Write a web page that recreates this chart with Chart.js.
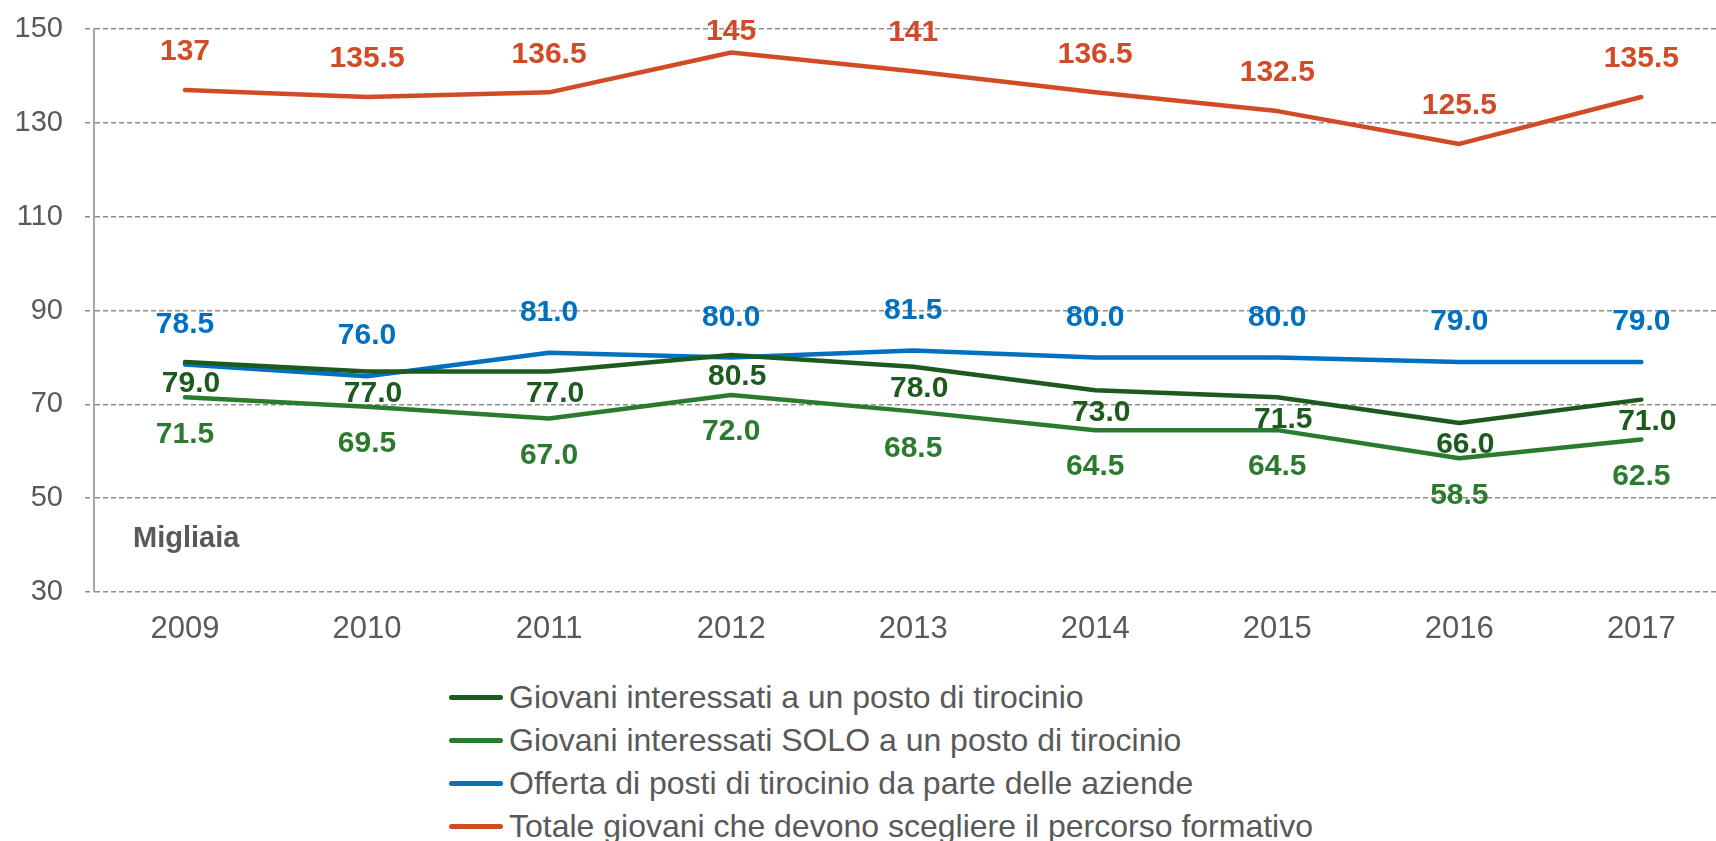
<!DOCTYPE html>
<html>
<head>
<meta charset="utf-8">
<script src="https://cdn.jsdelivr.net/npm/chart.js@4.4.1/dist/chart.umd.min.js"></script>
<style>
  body { margin: 0; background: #fff; overflow: hidden; }
  #wrap { position: relative; width: 1716px; height: 841px; }
  #chartBox { position: absolute; left: 0; top: 0; width: 1716px; height: 670px; }
  #legend { position: absolute; left: 449px; top: 676px; font-family: 'Liberation Sans', Arial, sans-serif; font-size: 32px; color: #595959; }
  #legend .item { height: 43px; line-height: 43px; white-space: nowrap; display: flex; align-items: center; }
  #legend .swatch { display: inline-block; width: 54px; height: 5px; border-radius: 3px; margin-right: 6px; }
</style>
</head>
<body>
<div id="wrap">
  <div id="chartBox"><canvas id="lineChart"></canvas></div>
  <div id="legend"></div>
</div>
<script>
const years = [2009, 2010, 2011, 2012, 2013, 2014, 2015, 2016, 2017];
const interessati = [79.0, 77.0, 77.0, 80.5, 78.0, 73.0, 71.5, 66.0, 71.0];
const soloTirocinio = [71.5, 69.5, 67.0, 72.0, 68.5, 64.5, 64.5, 58.5, 62.5];
const offertaPosti = [78.5, 76.0, 81.0, 80.0, 81.5, 80.0, 80.0, 79.0, 79.0];
const totaleGiovani = [137, 135.5, 136.5, 145, 141, 136.5, 132.5, 125.5, 135.5];
const yMin = 30, yMax = 150, yStep = 20;

const FONT = "'Liberation Sans', Arial, sans-serif";
const GRAY = '#595959';

// etichette dei valori sopra/sotto le linee
const valueLabels = {
  id: 'valueLabels',
  afterDatasetsDraw(chart) {
    const ctx = chart.ctx;
    const top = chart.chartArea.top;
    ctx.save();
    ctx.font = 'bold 30px ' + FONT;
    ctx.textAlign = 'center';
    ctx.textBaseline = 'middle';
    chart.data.datasets.forEach((ds, i) => {
      const meta = chart.getDatasetMeta(i);
      ctx.fillStyle = ds.borderColor;
      meta.data.forEach((pt, j) => {
        const v = ds.data[j].y;
        const txt = ds.decimals ? v.toFixed(1) : String(v);
        let y = pt.y + ds.labelDy;
        if (y < top + 3) y = top + 3;
        ctx.fillText(txt, pt.x + ds.labelDx, y);
      });
    });
    // unità di misura
    ctx.font = 'bold 29px ' + FONT;
    ctx.fillStyle = GRAY;
    ctx.textAlign = 'left';
    ctx.fillText('Migliaia', chart.chartArea.left + 39, 539);
    ctx.restore();
  }
};

function serie(label, values, color, dx, dy, decimals) {
  return {
    label: label,
    data: values.map((v, i) => ({ x: years[i], y: v })),
    borderColor: color,
    backgroundColor: color,
    borderWidth: 4.5,
    borderCapStyle: 'round',
    borderJoinStyle: 'round',
    pointRadius: 0,
    tension: 0,
    labelDx: dx,
    labelDy: dy,
    decimals: decimals
  };
}

const datasets = [
  serie('Giovani interessati a un posto di tirocinio', interessati, '#1D5A1D', 6, 22, true),
  serie('Giovani interessati SOLO a un posto di tirocinio', soloTirocinio, '#2A7B2E', 0, 37, true),
  serie('Offerta di posti di tirocinio da parte delle aziende', offertaPosti, '#0070C0', 0, -40, true),
  serie('Totale giovani che devono scegliere il percorso formativo', totaleGiovani, '#D24B27', 0, -38, false)
];

const chart = new Chart(document.getElementById('lineChart'), {
  type: 'line',
  data: { datasets: datasets },
  options: {
    responsive: true,
    maintainAspectRatio: false,
    animation: false,
    layout: { padding: { top: 29, right: 0, bottom: 0, left: 0 } },
    plugins: {
      legend: { display: false },
      tooltip: { enabled: false }
    },
    scales: {
      x: {
        type: 'linear',
        min: 2008.5,
        max: 2017.41,
        afterBuildTicks: (scale) => { scale.ticks = years.map(y => ({ value: y })); },
        afterFit: (scale) => { scale.height = 78; },
        grid: { display: false, drawTicks: false },
        border: { display: false },
        ticks: {
          padding: 19,
          color: GRAY,
          font: { family: FONT, size: 31 },
          callback: (v) => String(v)
        }
      },
      y: {
        min: yMin,
        max: yMax,
        afterFit: (scale) => {
          scale.width = 94;
          scale.paddingTop = 0;
          scale.paddingBottom = 0;
        },
        grid: {
          color: '#8C8C8C',
          lineWidth: 1.5,
          tickLength: 9,
          tickBorderDash: [5, 3],
          tickColor: '#8C8C8C'
        },
        // in v4 il dash del bordo vale per le linee della griglia, l'asse resta pieno
        border: { display: true, color: '#A6A6A6', width: 2, dash: [5, 3] },
        ticks: {
          stepSize: yStep,
          padding: 22,
          color: GRAY,
          font: { family: FONT, size: 29 }
        }
      }
    }
  },
  plugins: [valueLabels]
});

// legenda in colonna
const legendBox = document.getElementById('legend');
chart.data.datasets.forEach(ds => {
  const row = document.createElement('div');
  row.className = 'item';
  row.innerHTML = `<span class="swatch" style="background:${ds.borderColor}"></span><span>${ds.label}</span>`;
  legendBox.appendChild(row);
});
</script>
</body>
</html>
